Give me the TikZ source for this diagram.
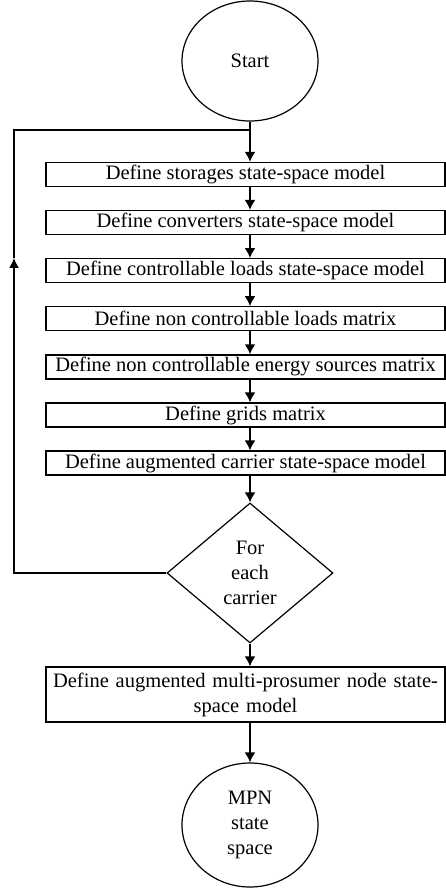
\documentclass[tikz,border=0pt]{standalone}
\usepackage{fontspec}
\setmainfont{Liberation Serif}
\usetikzlibrary{shapes.geometric,arrows.meta}

\begin{document}
\begin{tikzpicture}[x=1pt, y=-1pt, font=\fontsize{20.5}{25}\selectfont,
    stepbox/.style={draw, line width=1.3pt, minimum width=399pt, minimum height=24pt, inner sep=1pt},
    terminal/.style={draw, ellipse, line width=1.2pt, inner sep=0pt, align=center},
    decision/.style={draw, diamond, line width=1.2pt, inner sep=0pt, minimum width=166pt, minimum height=140pt, align=center},
    arr/.style={line width=1.8pt, -{Latex[length=10pt,width=11pt]}},
    loopline/.style={line width=1.4pt}]
        \useasboundingbox (0,0) rectangle (446,890);

        \node [terminal, minimum width=136pt, minimum height=120pt] (start) at (250,61) {Start};

        \node [stepbox] (stor) at (245.5,174.5) {Define storages state-space model};
        \node [stepbox] (conv) at (245.5,222.6) {Define converters state-space model};
        \node [stepbox] (cload) at (245.5,270.7) {Define controllable loads state-space model};
        \node [stepbox] (ncload) at (245.5,318.8) {Define non controllable loads matrix};
        \node [stepbox] (ncsrc) at (245.5,366.9) {Define non controllable energy sources matrix};
        \node [stepbox] (grids) at (245.5,415) {Define grids matrix};
        \node [stepbox] (carrier) at (245.5,463.1) {Define augmented carrier state-space model};

        \node [decision] (each) at (250,573) {For\\each\\carrier};

        \node [stepbox, minimum height=55pt, text width=392pt, align=center] (mpn) at (245.5,694.5) {Define augmented multi-prosumer node state-\\space model};

        \node [terminal, minimum width=136pt, minimum height=124pt] (stop) at (250,825) {MPN\\state\\space};

        % main flow
        \draw [arr] (start.south) -- (start.south |- stor.north);
        \draw [arr] (stor.south -| start) -- (conv.north -| start);
        \draw [arr] (conv.south -| start) -- (cload.north -| start);
        \draw [arr] (cload.south -| start) -- (ncload.north -| start);
        \draw [arr] (ncload.south -| start) -- (ncsrc.north -| start);
        \draw [arr] (ncsrc.south -| start) -- (grids.north -| start);
        \draw [arr] (grids.south -| start) -- (carrier.north -| start);
        \draw [arr] (carrier.south -| start) -- (each.north);
        \draw [arr] (each.south) -- (each.south |- mpn.north);
        \draw [arr] (mpn.south -| stop) -- (stop.north);

        % loop back
        \coordinate (lpb) at (14,573);
        \coordinate (lpm) at (14,258);
        \coordinate (lpt) at (14,130);
        \draw [loopline, -{Latex[length=10pt,width=10pt]}] (each.west) -- (lpb) -- (lpm);
        \draw [loopline] (lpm) -- (lpt) -- (start.south |- lpt);
\end{tikzpicture}
\end{document}
